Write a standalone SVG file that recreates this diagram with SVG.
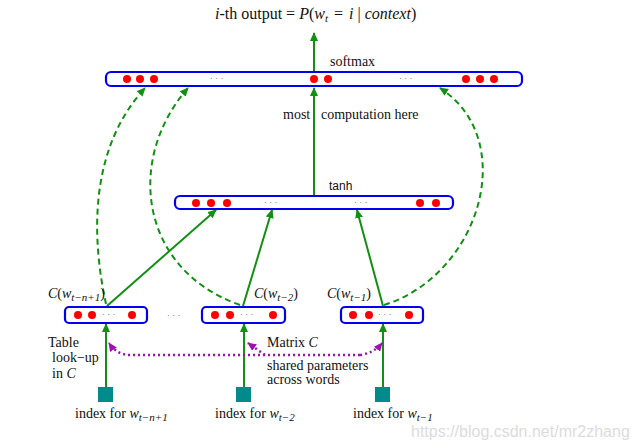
<svg xmlns="http://www.w3.org/2000/svg" width="633" height="447" viewBox="0 0 633 447">
<style>
.box{fill:#fff;stroke:#0000ee;stroke-width:2.2}
.dot{fill:#ff0000}
.ell{font-family:"Liberation Serif",serif;font-size:9px;fill:#555}
.g{stroke:#119011;stroke-width:2;fill:none}
.gd{stroke:#119011;stroke-width:2;fill:none;stroke-dasharray:6,4}
.p{stroke:#a010b0;stroke-width:2.5;fill:none;stroke-dasharray:2,3}
.t{font-family:"Liberation Serif",serif;font-size:14px;fill:#111}
.s{font-family:"Liberation Sans",Arial,sans-serif;font-size:12px;fill:#111}
.sq{fill:#008b8b}
</style>
<defs>
<marker id="ag" markerUnits="userSpaceOnUse" markerWidth="10" markerHeight="8" refX="8" refY="4" orient="auto"><path d="M0,0 L9,4 L0,8 Z" fill="#119011"/></marker>
<marker id="ap" markerUnits="userSpaceOnUse" markerWidth="10" markerHeight="8" refX="8" refY="4" orient="auto"><path d="M0,0 L9,4 L0,8 Z" fill="#a010b0"/></marker>
</defs>
<rect width="633" height="447" fill="#fff"/>

<text class="t" x="215" y="19" style="font-size:16px"><tspan font-style="italic">i</tspan>-th output = <tspan font-style="italic">P</tspan>(<tspan font-style="italic">w</tspan><tspan font-style="italic" font-size="11" dy="3">t</tspan><tspan dy="-3" dx="6">=</tspan><tspan font-style="italic" dx="6">i</tspan> | <tspan font-style="italic">context</tspan>)</text>

<g id="connectors">
<line class="g" x1="314" y1="72" x2="314" y2="33" marker-end="url(#ag)"/>
<line class="g" x1="314" y1="196" x2="314" y2="88" marker-end="url(#ag)"/>
<line class="g" x1="107" y1="306" x2="216" y2="210" marker-end="url(#ag)"/>
<line class="g" x1="243" y1="306" x2="272" y2="210" marker-end="url(#ag)"/>
<line class="g" x1="383" y1="306" x2="357" y2="210" marker-end="url(#ag)"/>
<path class="gd" d="M106,304 C92,240 88,150 145,88" marker-end="url(#ag)"/>
<path class="gd" d="M240,305 C140,270 125,160 188,88" marker-end="url(#ag)"/>
<path class="gd" d="M384,305 C480,275 520,140 440,88" marker-end="url(#ag)"/>
<line class="g" x1="106" y1="387" x2="106" y2="324" marker-end="url(#ag)"/>
<line class="g" x1="244" y1="387" x2="244" y2="324" marker-end="url(#ag)"/>
<line class="g" x1="383" y1="387" x2="383" y2="324" marker-end="url(#ag)"/>
<path class="p" d="M360,355 L130,355 Q117,355 109,343" marker-end="url(#ap)"/>
<path class="p" d="M265,355 L248,343" marker-end="url(#ap)"/>
<path class="p" d="M360,355 Q374,353 382,343" marker-end="url(#ap)"/>
</g>

<g id="softmax">
<rect class="box" x="106" y="72" width="416" height="14" rx="5"/>
<circle class="dot" cx="127" cy="79" r="4"/><circle class="dot" cx="140" cy="79" r="4"/><circle class="dot" cx="154" cy="79" r="4"/>
<circle class="dot" cx="314" cy="79" r="4"/><circle class="dot" cx="328" cy="79" r="4"/>
<circle class="dot" cx="466" cy="79" r="4"/><circle class="dot" cx="480" cy="79" r="4"/><circle class="dot" cx="494" cy="79" r="4"/>
<text class="ell" x="210" y="81">· · ·</text>
<text class="ell" x="399" y="81">· · ·</text>
<text class="t" x="330" y="66">softmax</text>
</g>

<text class="t" x="283" y="119">most</text>
<text class="t" x="321" y="119">computation here</text>

<g id="tanh">
<rect class="box" x="175" y="196" width="278" height="13" rx="5"/>
<circle class="dot" cx="196" cy="203" r="4"/><circle class="dot" cx="211" cy="203" r="4"/><circle class="dot" cx="227" cy="203" r="4"/>
<circle class="dot" cx="420" cy="203" r="4"/><circle class="dot" cx="436" cy="203" r="4"/>
<text class="ell" x="264" y="205">· · ·</text>
<text class="ell" x="354" y="205">· · ·</text>
<text class="s" x="329" y="190">tanh</text>
</g>

<g id="c1">
<rect class="box" x="65" y="307" width="82" height="16" rx="4"/>
<circle class="dot" cx="78" cy="315" r="4"/><circle class="dot" cx="92" cy="315" r="4"/><circle class="dot" cx="132" cy="315" r="4"/>
<text class="ell" x="102" y="317">· · ·</text>
<text class="t" x="48" y="298"><tspan font-style="italic">C</tspan>(<tspan font-style="italic">w</tspan><tspan font-style="italic" font-size="11" dy="3">t−n+1</tspan><tspan dy="-3">)</tspan></text>
</g>
<text class="ell" x="167" y="318">· · ·</text>
<g id="c2">
<rect class="box" x="202" y="307" width="83" height="16" rx="4"/>
<circle class="dot" cx="215" cy="315" r="4"/><circle class="dot" cx="230" cy="315" r="4"/><circle class="dot" cx="273" cy="315" r="4"/>
<text class="ell" x="240" y="317">· · ·</text>
<text class="t" x="254" y="298"><tspan font-style="italic">C</tspan>(<tspan font-style="italic">w</tspan><tspan font-style="italic" font-size="11" dy="3">t−2</tspan><tspan dy="-3">)</tspan></text>
</g>
<g id="c3">
<rect class="box" x="341" y="307" width="82" height="16" rx="4"/>
<circle class="dot" cx="353" cy="315" r="4"/><circle class="dot" cx="369" cy="315" r="4"/><circle class="dot" cx="409" cy="315" r="4"/>
<text class="ell" x="378" y="317">· · ·</text>
<text class="t" x="327" y="298"><tspan font-style="italic">C</tspan>(<tspan font-style="italic">w</tspan><tspan font-style="italic" font-size="11" dy="3">t−1</tspan><tspan dy="-3">)</tspan></text>
</g>

<g id="idx1">
<rect class="sq" x="98" y="387" width="15" height="15"/>
<text class="t" x="75" y="418">index for <tspan font-style="italic">w</tspan><tspan font-style="italic" font-size="11" dy="3">t−n+1</tspan></text>
</g>
<g id="idx2">
<rect class="sq" x="236" y="387" width="15" height="15"/>
<text class="t" x="215" y="418">index for <tspan font-style="italic">w</tspan><tspan font-style="italic" font-size="11" dy="3">t−2</tspan></text>
</g>
<g id="idx3">
<rect class="sq" x="375" y="387" width="15" height="15"/>
<text class="t" x="353" y="418">index for <tspan font-style="italic">w</tspan><tspan font-style="italic" font-size="11" dy="3">t−1</tspan></text>
</g>

<g id="labels">
<text class="t" x="48" y="347">Table</text>
<text class="t" x="52" y="362">look−up</text>
<text class="t" x="52" y="378">in <tspan font-style="italic">C</tspan></text>
<text class="t" x="267" y="347">Matrix <tspan font-style="italic">C</tspan></text>
<text class="t" x="267" y="370">shared parameters</text>
<text class="t" x="267" y="384">across words</text>
</g>

<text x="411" y="437" font-family="'Liberation Sans',Arial,sans-serif" font-size="16" fill="#dcdcdc">https://blog.csdn.net/mr2zhang</text>
</svg>
